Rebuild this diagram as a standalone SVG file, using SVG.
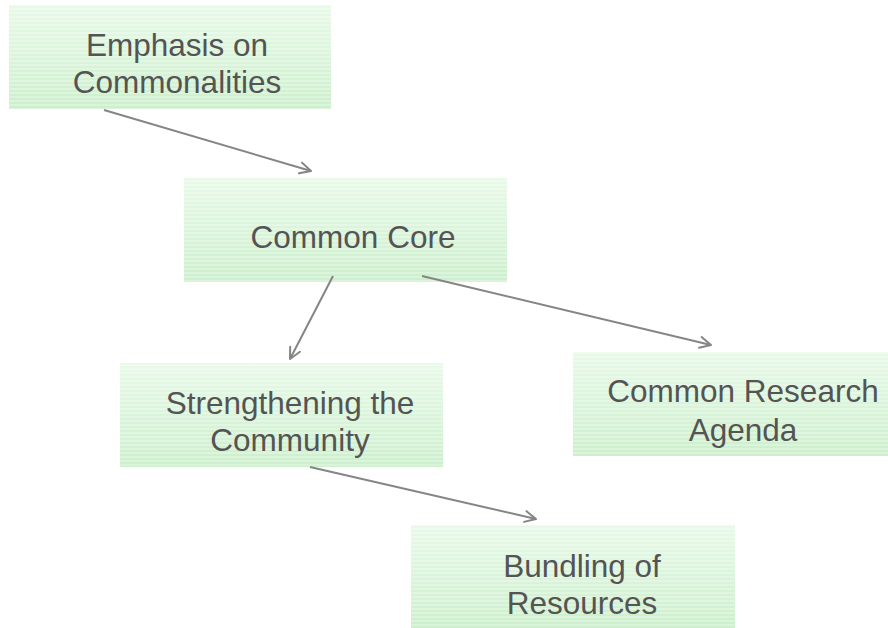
<svg xmlns="http://www.w3.org/2000/svg" width="888" height="628" viewBox="0 0 888 628">
<defs>
<linearGradient id="g" x1="0" y1="0" x2="0" y2="1">
<stop offset="0" stop-color="#e8f9e8"/>
<stop offset="1" stop-color="#ccefcc"/>
</linearGradient>
<pattern id="stripes" width="8" height="4" patternUnits="userSpaceOnUse">
<rect x="0" y="0" width="8" height="2" fill="#ffffff" fill-opacity="0.28"/>
</pattern>
<marker id="arr" viewBox="0 0 14 14" refX="13" refY="7" markerWidth="14" markerHeight="14" markerUnits="userSpaceOnUse" orient="auto">
<path d="M2,1.5 L13,7 L2,12.5" fill="none" stroke="#858585" stroke-width="2" stroke-linecap="round" stroke-linejoin="round"/>
</marker>
<style>
.box{fill:url(#g);}
.str{fill:url(#stripes);}
.t{font-family:"Liberation Sans",Arial,sans-serif;font-size:31.5px;fill:#545454;text-anchor:middle;}
.c{stroke:#858585;stroke-width:2;fill:none;marker-end:url(#arr);}
</style>
</defs>
<rect width="888" height="628" fill="#ffffff"/>
<g id="n1">
<rect class="box" x="9" y="5" width="322" height="104"/>
<rect class="str" x="9" y="5" width="322" height="104"/>
<text class="t" x="177" y="56">Emphasis on</text>
<text class="t" x="177" y="93">Commonalities</text>
</g>
<g id="n2">
<rect class="box" x="184" y="178" width="323" height="104"/>
<rect class="str" x="184" y="178" width="323" height="104"/>
<text class="t" x="353" y="248">Common Core</text>
</g>
<g id="n3">
<rect class="box" x="120" y="363" width="323" height="104"/>
<rect class="str" x="120" y="363" width="323" height="104"/>
<text class="t" x="290" y="414">Strengthening the</text>
<text class="t" x="290" y="451">Community</text>
</g>
<g id="n4">
<rect class="box" x="573" y="352" width="315" height="104"/>
<rect class="str" x="573" y="352" width="315" height="104"/>
<text class="t" x="743" y="402">Common Research</text>
<text class="t" x="743" y="441">Agenda</text>
</g>
<g id="n5">
<rect class="box" x="411" y="525" width="324" height="103"/>
<rect class="str" x="411" y="525" width="324" height="103"/>
<text class="t" x="582" y="577">Bundling of</text>
<text class="t" x="582" y="614">Resources</text>
</g>
<g id="connectors">
<line class="c" x1="104" y1="110" x2="311" y2="171"/>
<line class="c" x1="333" y1="276" x2="290" y2="359"/>
<line class="c" x1="422" y1="276" x2="711" y2="345"/>
<line class="c" x1="310" y1="467" x2="536" y2="519"/>
</g>
</svg>
